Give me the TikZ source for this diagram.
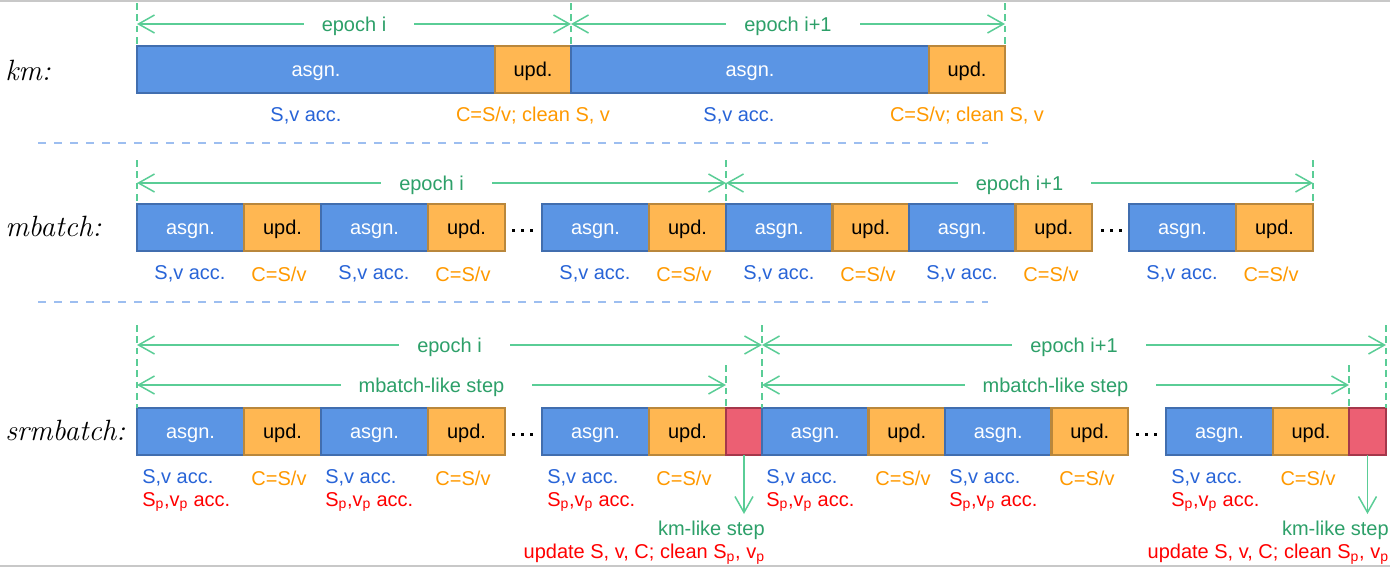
\documentclass[tikz,border=0pt]{standalone}
\usepackage{fontspec}
\setmainfont{Liberation Sans}
\newfontfamily\handfont{Latin Modern Roman}
\usetikzlibrary{arrows.meta}
\newdimen\pxu \pxu=0.75pt
\definecolor{bfill}{RGB}{91,149,228}
\definecolor{bdraw}{RGB}{65,110,175}
\definecolor{ofill}{RGB}{255,183,82}
\definecolor{odraw}{RGB}{185,135,60}
\definecolor{rfill}{RGB}{236,95,115}
\definecolor{rdraw}{RGB}{165,55,75}
\definecolor{gline}{RGB}{90,205,150}
\definecolor{gtext}{RGB}{45,160,105}
\definecolor{btext}{RGB}{40,100,215}
\definecolor{otext}{RGB}{255,153,0}
\definecolor{sepcol}{RGB}{157,190,240}
\definecolor{framecol}{RGB}{200,200,200}
\tikzset{
  blk/.style={draw, line width=2.5\pxu, inner sep=0, outer sep=0, minimum height=47\pxu, anchor=west, font=\fontsize{15}{18}\selectfont, text height=10.8pt, text depth=0pt},
  asg/.style={blk, fill=bfill, draw=bdraw, text=white, minimum width=107\pxu},
  upd/.style={blk, fill=ofill, draw=odraw, text=black, minimum width=77\pxu},
  rst/.style={blk, fill=rfill, draw=rdraw, minimum width=36\pxu},
  lbl/.style={font=\fontsize{15}{18}\selectfont, inner sep=0, yshift=-1.5pt},
  bl/.style={lbl, text=btext},
  ol/.style={lbl, text=otext},
  rl/.style={lbl, text=red},
  gl/.style={lbl, text=gtext},
  epocharrow/.style={draw=gline, line width=1.5\pxu, {Straight Barb[length=12pt,width=13.5pt]}-{Straight Barb[length=12pt,width=13.5pt]}},
  downarrow/.style={draw=gline, line width=1.5\pxu, -{Straight Barb[length=12pt,width=13.5pt]}},
  gapnode/.style={gl, fill=white, inner ysep=3pt},
  vdash/.style={draw=gline, line width=1.3\pxu, dash pattern=on 5pt off 3.5pt},
  sepline/.style={draw=sepcol, line width=2\pxu, dash pattern=on 6pt off 6pt},
  rowlbl/.style={font=\handfont\fontsize{22}{26}\selectfont\itshape, anchor=west, inner sep=0},
  dotsq/.style={fill=black}
}
\newcommand\gaptext[1]{\hspace*{13.5pt}#1\hspace*{21pt}}
\begin{document}
\begin{tikzpicture}[x=0.75pt,y=-0.75pt]
\useasboundingbox (0,0) rectangle (1390,568);
% frame lines
\draw[framecol, line width=2\pxu] (0,1) -- (1390,1);
\draw[framecol, line width=2\pxu] (0,566) -- (1390,566);

% ================= km =================
\node[rowlbl] (lkm) at (5,70) {km:};
\node[asg, minimum width=358\pxu] (k1) at (137,69.5) {asgn.};
\node[upd, minimum width=76\pxu] (k2) at (k1.east) {upd.};
\node[asg, minimum width=358\pxu] (k3) at (k2.east) {asgn.};
\node[upd, minimum width=76\pxu] (k4) at (k3.east) {upd.};
\coordinate (kt0) at (137,3);
\coordinate (kt1) at (571,3);
\coordinate (kt2) at (1005,3);
\draw[vdash] (kt0) -- (k1.north west);
\draw[vdash] (kt1) -- (k3.north west);
\draw[vdash] (kt2) -- (k4.north east);
\coordinate (ke0) at (137,24);
\coordinate (ke1) at (571,24);
\coordinate (ke2) at (1005,24);
\draw[epocharrow] (ke0) -- (ke1);
\draw[epocharrow] (ke1) -- (ke2);
\node[gapnode] (kg1) at (359,24) {\gaptext{epoch i}};
\node[gapnode] (kg2) at (793,24) {\gaptext{epoch i+1}};
\node[bl] (kl1) at (306,114) {S,v acc.};
\node[ol] (kl2) at (533,114) {C=S/v; clean S, v};
\node[bl] (kl3) at (739,114) {S,v acc.};
\node[ol] (kl4) at (967,114) {C=S/v; clean S, v};

\draw[sepline] (38,143) -- (988,143);

% ================= mbatch =================
\node[rowlbl] (lmb) at (5,226) {mbatch:};
\node[asg] (m1) at (137,227.5) {asgn.};
\node[upd] (m2) at (m1.east) {upd.};
\node[asg] (m3) at (m2.east) {asgn.};
\node[upd] (m4) at (m3.east) {upd.};
\node[asg] (m5) at (542,227.5) {asgn.};
\node[upd] (m6) at (m5.east) {upd.};
\node[asg, minimum width=106.5\pxu] (m7) at (m6.east) {asgn.};
\node[upd, minimum width=76.5\pxu] (m8) at (m7.east) {upd.};
\node[asg, minimum width=106.5\pxu] (m9) at (m8.east) {asgn.};
\node[upd, minimum width=76.5\pxu] (m10) at (m9.east) {upd.};
\node[asg] (m11) at (1129,227.5) {asgn.};
\node[upd] (m12) at (m11.east) {upd.};
\foreach \x in {513,522,531,1102,1111,1120}
  \fill[dotsq] (\x-1.5,229) rectangle (\x+1.5,232);
\coordinate (mt0) at (137,160);
\coordinate (mt1) at (726,160);
\coordinate (mt2) at (1313,160);
\draw[vdash] (mt0) -- (m1.north west);
\draw[vdash] (mt1) -- (m7.north west);
\draw[vdash] (mt2) -- (m12.north east);
\coordinate (me0) at (137,183);
\coordinate (me1) at (726,183);
\coordinate (me2) at (1313,183);
\draw[epocharrow] (me0) -- (me1);
\draw[epocharrow] (me1) -- (me2);
\node[gapnode] (mg1) at (436.5,183) {\gaptext{epoch i}};
\node[gapnode] (mg2) at (1024.5,183) {\gaptext{epoch i+1}};
\foreach \n/\x in {1/190,3/374,5/595,7/779,9/962,11/1182}
  \node[bl] (mla\n) at (\x,272) {S,v acc.};
\foreach \n/\x in {2/279,4/463,6/684,8/868,10/1051,12/1271}
  \node[ol] (mlb\n) at (\x,272) {C=S/v};

\draw[sepline] (38,302) -- (988,302);

% ================= srmbatch =================
\node[rowlbl] (lsr) at (5,430) {srmbatch:};
\node[asg] (s1) at (137,431.5) {asgn.};
\node[upd] (s2) at (s1.east) {upd.};
\node[asg] (s3) at (s2.east) {asgn.};
\node[upd] (s4) at (s3.east) {upd.};
\node[asg] (s5) at (542,431.5) {asgn.};
\node[upd] (s6) at (s5.east) {upd.};
\node[rst] (s7) at (s6.east) {};
\node[asg, minimum width=106.5\pxu] (s8) at (s7.east) {asgn.};
\node[upd, minimum width=76.5\pxu] (s9) at (s8.east) {upd.};
\node[asg, minimum width=106.5\pxu] (s10) at (s9.east) {asgn.};
\node[upd, minimum width=76.5\pxu] (s11) at (s10.east) {upd.};
\node[asg] (s12) at (1166,431.5) {asgn.};
\node[upd, minimum width=76\pxu] (s13) at (s12.east) {upd.};
\node[rst, minimum width=37\pxu] (s14) at (s13.east) {};
\foreach \x in {513,522,531,1137,1146,1155}
  \fill[dotsq] (\x-1.5,433) rectangle (\x+1.5,436);
% dashed verticals
\coordinate (st0) at (137,325);
\coordinate (st1) at (726,365);
\coordinate (st2) at (762,325);
\coordinate (st3) at (1349,365);
\coordinate (st4) at (1386,325);
\draw[vdash] (st0) -- (s1.north west);
\draw[vdash] (st1) -- (s7.north west);
\draw[vdash] (st2) -- (s8.north west);
\draw[vdash] (st3) -- (s14.north west);
\draw[vdash] (st4) -- (s14.north east);
% epoch arrows
\coordinate (se0) at (137,345);
\coordinate (se1) at (762,345);
\coordinate (se2) at (1386,345);
\draw[epocharrow] (se0) -- (se1);
\draw[epocharrow] (se1) -- (se2);
\node[gapnode] (sg1) at (454.5,345) {\gaptext{epoch i}};
\node[gapnode] (sg2) at (1079,345) {\gaptext{epoch i+1}};
% mbatch-like step arrows
\coordinate (sm0) at (137,385);
\coordinate (sm1) at (726,385);
\coordinate (sm2) at (762,385);
\coordinate (sm3) at (1349,385);
\draw[epocharrow] (sm0) -- (sm1);
\draw[epocharrow] (sm2) -- (sm3);
\node[gapnode] (sh1) at (436.5,385) {\gaptext{mbatch-like step}};
\node[gapnode] (sh2) at (1060.5,385) {\gaptext{mbatch-like step}};
% labels
\foreach \n/\x in {1/142,3/325,5/547,8/766,10/949,12/1171} {
  \node[bl, anchor=west] (sla\n) at (\x,476) {S,v acc.};
  \node[rl, anchor=west] (slp\n) at (\x,500) {S\textsubscript{p},v\textsubscript{p} acc.};
}
\foreach \n/\x in {2/279,4/463,6/684,9/903,11/1087,13/1308}
  \node[ol] (slb\n) at (\x,476) {C=S/v};
% km-like steps
\coordinate (sk1) at (744,514);
\coordinate (sk2) at (1367.5,514);
\draw[downarrow] (s7.south) -- (sk1);
\draw[downarrow] (s14.south) -- (sk2);
\node[gl, anchor=east] (kml1) at (765,528) {km-like step};
\node[rl, anchor=east] (kmu1) at (765,552) {update S, v, C; clean S\textsubscript{p}, v\textsubscript{p}};
\node[gl, anchor=east] (kml2) at (1389,528) {km-like step};
\node[rl, anchor=east] (kmu2) at (1389,552) {update S, v, C; clean S\textsubscript{p}, v\textsubscript{p}};
\end{tikzpicture}
\end{document}
